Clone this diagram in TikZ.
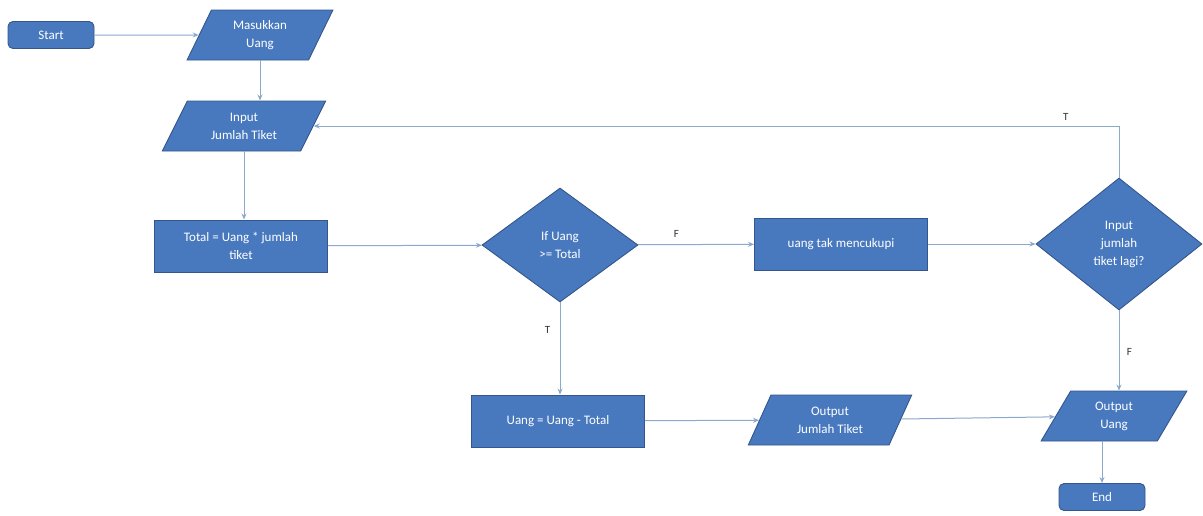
\documentclass[tikz,border=0pt]{standalone}
\usepackage{fontspec}
\setmainfont{Carlito}
\usetikzlibrary{shapes.geometric,arrows.meta}
\definecolor{boxblue}{RGB}{72,121,190}
\definecolor{edgeblue}{RGB}{52,86,140}
\definecolor{lineblue}{RGB}{140,168,205}
\tikzset{
  base/.style={draw=edgeblue, line width=0.9pt, fill=boxblue, text=white, align=center, font=\fontsize{13}{18}\selectfont},
  term/.style={base, rectangle, rounded corners=5pt, minimum width=86pt, minimum height=27pt},
  proc/.style={base, rectangle, minimum width=173pt, minimum height=52pt},
  io/.style={base, trapezium, trapezium left angle=68, trapezium right angle=112, trapezium stretches=true, minimum width=146pt, minimum height=50pt, inner xsep=2pt},
  cond/.style={base, diamond, inner sep=0pt},
  flow/.style={draw=lineblue, line width=1pt, -{Stealth[length=6pt,width=5pt]}},
  lbl/.style={text=black!80, font=\fontsize{11}{12}\selectfont}
}
\begin{document}
\begin{tikzpicture}[x=1pt,y=-1pt]
  \useasboundingbox (0,0) rectangle (1203,515);
  % first column
  \node[term] (start) at (51,35) {Start};
  \node[io] (uang) at (260,35) {Masukkan\\Uang};
  \node[io, minimum width=164pt, trapezium left angle=65, trapezium right angle=115] (tiket) at (244,126) {Input\\Jumlah Tiket};
  \node[proc] (total) at (241,246) {Total = Uang * jumlah\\tiket};
  % middle row
  \node[cond, minimum width=156pt, minimum height=114pt] (cek) at (560,245) {If Uang\\>= Total};
  \node[proc] (kurang) at (841,244) {uang tak mencukupi};
  \node[cond, minimum width=166pt, minimum height=132pt] (lagi) at (1119,244) {Input\\jumlah\\tiket lagi?};
  % bottom row
  \node[proc] (kurangi) at (558,421) {Uang = Uang - Total};
  \node[io, minimum width=164pt] (outtiket) at (830,420) {Output\\Jumlah Tiket};
  \node[io] (outuang) at (1114,416) {Output\\Uang};
  \node[term] (end) at (1102,497) {End};
  % connectors
  \draw[flow] (start) -- (uang);
  \draw[flow] (uang.south) -- (uang.south |- tiket.north);
  \draw[flow] (tiket.south) -- (tiket.south |- total.north);
  \draw[flow] (total) -- (cek);
  \draw[flow] (cek) -- node[lbl, pos=0.33, above=3pt] {F} (kurang);
  \draw[flow] (kurang) -- (lagi);
  \draw[flow] (lagi.north) |- node[lbl, pos=0.533, above=2pt] {T} (tiket.east);
  \draw[flow] (cek.south) -- node[lbl, pos=0.3, left=6pt] {T} (cek.south |- kurangi.north);
  \draw[flow] (lagi.south) -- node[lbl, pos=0.52, right=4pt] {F} (lagi.south |- outuang.north);
  \draw[flow] (kurangi) -- (outtiket);
  \draw[flow] (outtiket) -- (outuang);
  \draw[flow] (end.north |- outuang.south) -- (end.north);
\end{tikzpicture}
\end{document}
